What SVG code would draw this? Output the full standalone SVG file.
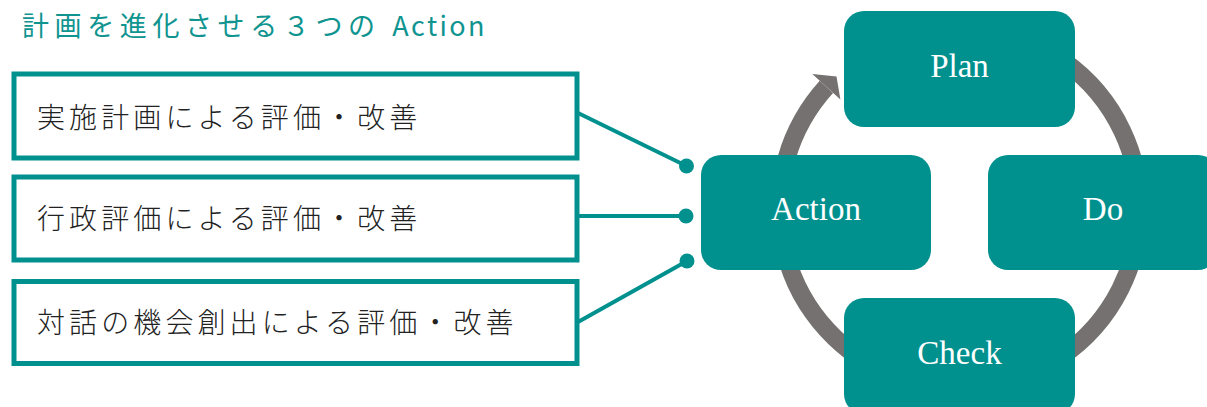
<svg xmlns="http://www.w3.org/2000/svg" width="1207" height="407" viewBox="0 0 1207 407">
  <style>
    .title { font-family: "Noto Sans CJK JP", "Noto Sans", sans-serif; font-weight: 400; font-size: 27px; fill: #0f9490; letter-spacing: 5.6px; }
    .item-box { fill: #ffffff; stroke: #00918f; stroke-width: 5; }
    .item-text { font-family: "Noto Sans CJK JP", "Noto Sans", sans-serif; font-weight: 300; font-size: 28px; fill: #222222; letter-spacing: 4.1px; }
    .cycle-box { fill: #00918f; }
    .cycle-text { font-family: "Liberation Serif", "DejaVu Serif", serif; font-size: 33px; fill: #ffffff; text-anchor: middle; }
    .link { stroke: #00918f; stroke-width: 4; fill: none; }
    .dot { fill: #00918f; }
    .ring { stroke: #757170; stroke-width: 18; fill: none; }
    .ring-head { fill: #757170; }
  </style>

  <!-- heading -->
  <text class="title" x="22" y="36">計画を進化させる３つの <tspan letter-spacing="2.4">Action</tspan></text>

  <!-- three evaluation routes -->
  <g id="route-plan">
    <rect class="item-box" x="14" y="74" width="563" height="84"/>
    <text class="item-text" x="37" y="128">実施計画による評価・改善</text>
  </g>
  <g id="route-admin">
    <rect class="item-box" x="14" y="177" width="563" height="83"/>
    <text class="item-text" x="37" y="229">行政評価による評価・改善</text>
  </g>
  <g id="route-dialogue">
    <rect class="item-box" x="14" y="281.5" width="563" height="82"/>
    <text class="item-text" x="37" y="333">対話の機会創出による評価・改善</text>
  </g>

  <!-- PDCA ring drawn beneath the boxes -->
  <g id="cycle-ring">
    <path class="ring" d="M897.9 38.9 A180 180 0 1 1 826.4 86.9"/>
    <polygon class="ring-head" points="812.3,74.1 836.5,76.6 840.4,99.6"/>
  </g>

  <!-- connectors into Action -->
  <g id="connectors">
    <line class="link" x1="578" y1="113" x2="686.5" y2="166"/>
    <line class="link" x1="578" y1="216" x2="686" y2="216"/>
    <line class="link" x1="578" y1="322" x2="687" y2="261"/>
    <circle class="dot" cx="686.5" cy="166" r="7.5"/>
    <circle class="dot" cx="686" cy="216" r="7.5"/>
    <circle class="dot" cx="687" cy="261" r="7.5"/>
  </g>

  <!-- PDCA nodes -->
  <g id="node-plan">
    <rect class="cycle-box" x="844" y="11" width="231" height="116" rx="20"/>
    <text class="cycle-text" x="959.5" y="77">Plan</text>
  </g>
  <g id="node-do">
    <rect class="cycle-box" x="988" y="155" width="230" height="115" rx="20"/>
    <text class="cycle-text" x="1103" y="220">Do</text>
  </g>
  <g id="node-check">
    <rect class="cycle-box" x="844" y="298" width="231" height="116" rx="20"/>
    <text class="cycle-text" x="959.5" y="364">Check</text>
  </g>
  <g id="node-action">
    <rect class="cycle-box" x="701" y="155" width="230" height="115" rx="20"/>
    <text class="cycle-text" x="816" y="220">Action</text>
  </g>
</svg>
